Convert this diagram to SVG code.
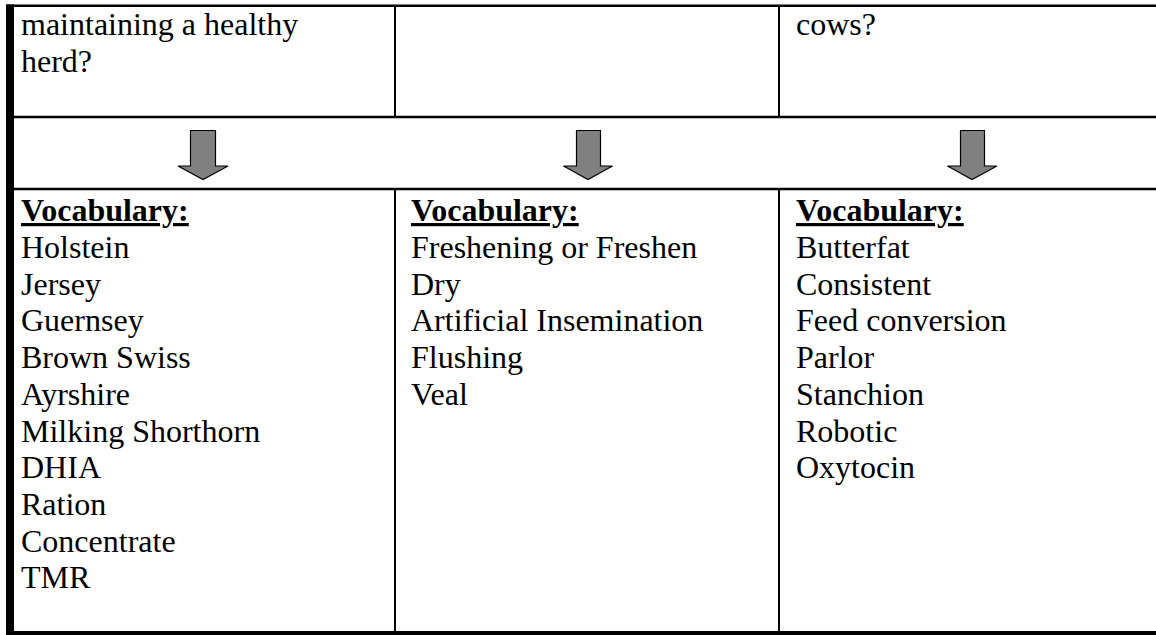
<svg xmlns="http://www.w3.org/2000/svg" width="1156" height="635" viewBox="0 0 1156 635">
<style>
text{font-family:"Liberation Serif","Times New Roman",serif;font-size:32px;fill:#000}
.h{font-weight:bold;text-decoration:underline}
.ln{stroke:#000;fill:none}
.arr{fill:#808080;stroke:#000;stroke-width:1.2}
</style>
<rect width="1156" height="635" fill="#fff"/>
<g id="grid">
<rect x="6" y="4.5" width="8" height="630.5" fill="#000"/>
<line class="ln" x1="6" y1="5.75" x2="1156" y2="5.75" stroke-width="2.5"/>
<line class="ln" x1="6" y1="117" x2="1156" y2="117" stroke-width="2.5"/>
<line class="ln" x1="6" y1="189" x2="1156" y2="189" stroke-width="2.5"/>
<line class="ln" x1="6" y1="633" x2="1156" y2="633" stroke-width="4"/>
<line class="ln" x1="395" y1="5" x2="395" y2="117" stroke-width="2"/>
<line class="ln" x1="779" y1="5" x2="779" y2="117" stroke-width="2"/>
<line class="ln" x1="395" y1="189" x2="395" y2="632" stroke-width="2"/>
<line class="ln" x1="779" y1="189" x2="779" y2="632" stroke-width="2"/>
</g>
<g id="top-left"><text x="21" y="35">maintaining a healthy</text><text x="21" y="72">herd?</text></g>
<g id="top-mid"></g>
<g id="top-right"><text x="796" y="35">cows?</text></g>
<g id="connectors">
<path class="arr" d="M190.5 130.5 H215.5 V166 H228 L203 179.5 L178 166 H190.5 Z"/>
<path class="arr" d="M576.5 130.5 H600.5 V166 H612.5 L588 179.5 L563.5 166 H576.5 Z"/>
<path class="arr" d="M960.5 130.5 H984.5 V166 H997 L972 179.5 L947.5 166 H960.5 Z"/>
</g>
<g id="vocab-1">
<text x="21" y="221" class="h">Vocabulary:</text>
<text x="21" y="258">Holstein</text>
<text x="21" y="294.7">Jersey</text>
<text x="21" y="331.4">Guernsey</text>
<text x="21" y="368.1">Brown Swiss</text>
<text x="21" y="404.8">Ayrshire</text>
<text x="21" y="441.5">Milking Shorthorn</text>
<text x="21" y="478.2">DHIA</text>
<text x="21" y="514.9">Ration</text>
<text x="21" y="551.6">Concentrate</text>
<text x="21" y="588.3">TMR</text>
</g>
<g id="vocab-2">
<text x="411" y="221" class="h">Vocabulary:</text>
<text x="411" y="258">Freshening or Freshen</text>
<text x="411" y="294.7">Dry</text>
<text x="411" y="331.4">Artificial Insemination</text>
<text x="411" y="368.1">Flushing</text>
<text x="411" y="404.8">Veal</text>
</g>
<g id="vocab-3">
<text x="796" y="221" class="h">Vocabulary:</text>
<text x="796" y="258">Butterfat</text>
<text x="796" y="294.7">Consistent</text>
<text x="796" y="331.4">Feed conversion</text>
<text x="796" y="368.1">Parlor</text>
<text x="796" y="404.8">Stanchion</text>
<text x="796" y="441.5">Robotic</text>
<text x="796" y="478.2">Oxytocin</text>
</g>
</svg>
